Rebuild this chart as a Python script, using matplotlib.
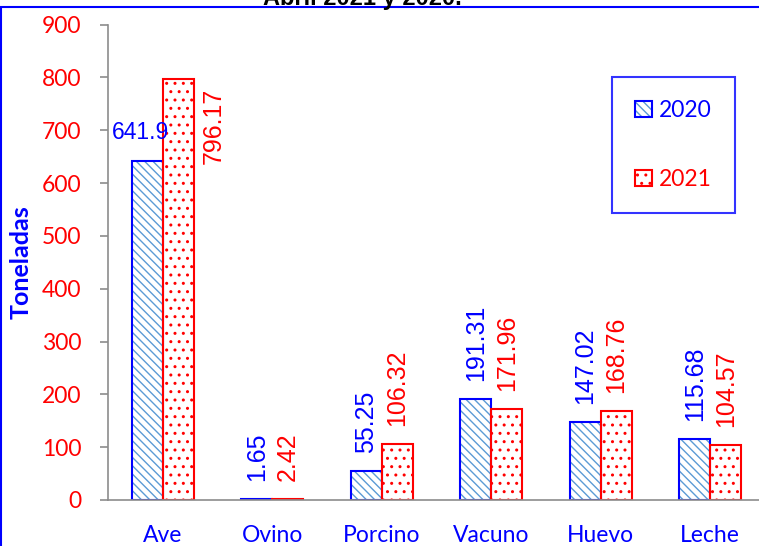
import numpy as np
import matplotlib
matplotlib.use('Agg')
import matplotlib.pyplot as plt
from matplotlib.patches import Rectangle
from matplotlib.legend_handler import HandlerTuple

# data
categories = ['Ave', 'Ovino', 'Porcino', 'Vacuno', 'Huevo', 'Leche']
v2020 = [641.9, 1.65, 55.25, 191.31, 147.02, 115.68]
v2021 = [796.17, 2.42, 106.32, 171.96, 168.76, 104.57]
yticks = [0, 100, 200, 300, 400, 500, 600, 700, 800, 900]
title = 'Abril 2021 y 2020.'

blue = '#0000FF'
red = '#FF0000'
stripe = '#5B9BD5'

fig = plt.figure(figsize=(7.59, 5.46), dpi=100)
ax = fig.add_axes([108 / 759, 46 / 546, 657 / 759, 475.5 / 546])

x = np.arange(len(categories))
w = 0.283

# hatched fills, then outlines on top
h1 = ax.bar(x - w / 2, v2020, w, color='white', edgecolor=stripe, hatch='\\' * 4, linewidth=0)
h2 = ax.bar(x + w / 2, v2021, w, color='white', edgecolor=red, hatch='..', linewidth=0)
e1 = ax.bar(x - w / 2, v2020, w, fill=False, edgecolor=blue, linewidth=1.5)
e2 = ax.bar(x + w / 2, v2021, w, fill=False, edgecolor=red, linewidth=1.5)

for i in range(len(categories)):
    if i == 0:
        # Ave labels sit differently in the original
        ax.text(i - 0.199, v2020[i] + 53, f'{v2020[i]:g}', color=blue, ha='center', va='center',
                family='Liberation Sans', fontsize=16.5)
        ax.text(i + 0.468, v2021[i] - 15, f'{v2021[i]:g}', color=red, ha='center', va='top',
                rotation=90, family='Liberation Sans', fontsize=18)
        continue
    ax.annotate(f'{v2020[i]:g}', (i - w / 2, v2020[i]), xytext=(0, 13), textcoords='offset points',
                ha='center', va='bottom', rotation=90, color=blue, family='Liberation Sans', fontsize=18)
    ax.annotate(f'{v2021[i]:g}', (i + w / 2, v2021[i]), xytext=(0, 13), textcoords='offset points',
                ha='center', va='bottom', rotation=90, color=red, family='Liberation Sans', fontsize=18)

ax.set_xlim(-0.5, len(categories) - 0.5)
ax.set_ylim(0, 900)
ax.set_yticks(yticks)
ax.set_xticks(x)
ax.set_xticklabels(categories)

for s in ['top', 'right']:
    ax.spines[s].set_visible(False)
ax.spines['left'].set_color('#8C8C8C')
ax.spines['bottom'].set_color('#8C8C8C')
ax.spines['left'].set_linewidth(1.2)
ax.spines['bottom'].set_linewidth(1.2)
ax.tick_params(axis='y', length=6, color='#8C8C8C', width=1.2, pad=13, labelcolor=red, labelsize=16.5)
ax.tick_params(axis='x', length=0, pad=18, labelcolor=blue, labelsize=16.5)
for t in ax.get_xticklabels() + ax.get_yticklabels():
    t.set_family('Lato')

ax.set_ylabel('Toneladas', color=blue, fontsize=18, fontweight='bold', family='Lato')
ax.yaxis.set_label_coords(-75 / 657, (500 - 262) / 475.5)

leg = ax.legend([(h1[0], e1[0]), (h2[0], e2[0])], ['2020', '2021'],
                handler_map={tuple: HandlerTuple(ndivide=1, pad=0)},
                prop={'family': 'Lato', 'size': 16.5}, labelcolor=[blue, red],
                handlelength=0.75, handleheight=0.75, handletextpad=0.3,
                labelspacing=2.1, borderpad=1.0, fancybox=False,
                loc='upper left', bbox_to_anchor=(612 / 759, 1 - 77 / 546),
                bbox_transform=fig.transFigure, borderaxespad=0)
leg.get_frame().set_edgecolor(blue)
leg.get_frame().set_linewidth(1.5)

# chart frame and clipped title
fig.add_artist(Rectangle((1 / 759, -0.1), 2, 0.1 + (546 - 7) / 546, transform=fig.transFigure,
                         fill=False, edgecolor=blue, linewidth=1.5))
fig.text(362 / 759, 1 - 5 / 546, title, ha='center', va='baseline', fontsize=17,
         fontweight='bold', family='Liberation Sans')

fig.savefig('out.png', dpi=100)
